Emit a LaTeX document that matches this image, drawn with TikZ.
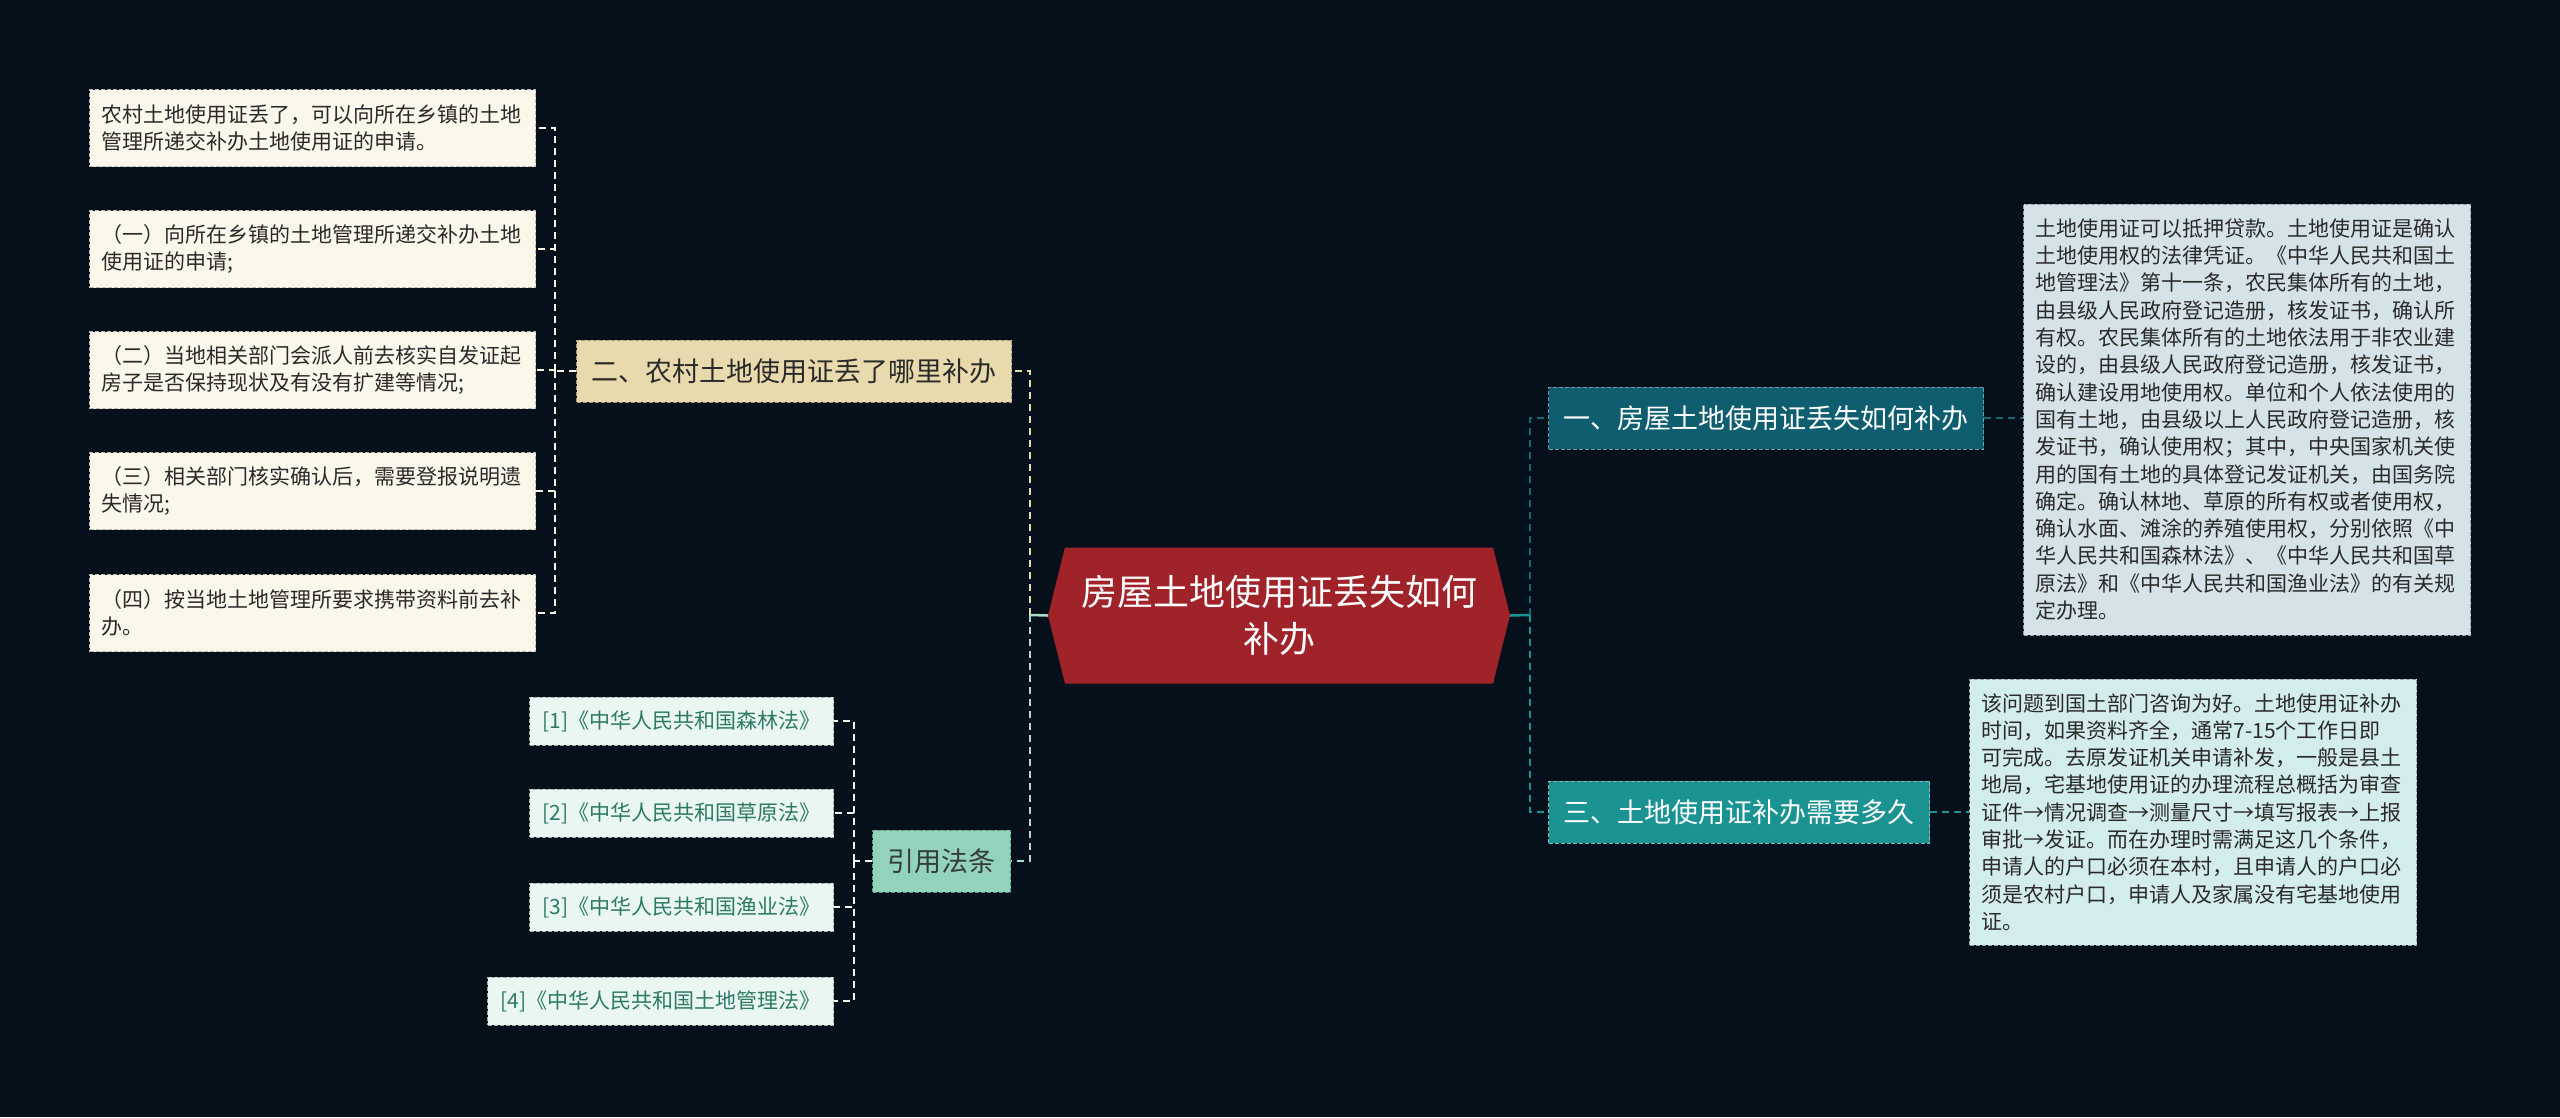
\documentclass[tikz,border=0pt]{standalone}
\usepackage{fontspec}
\setmainfont{Noto Sans CJK SC}
\usetikzlibrary{positioning,shapes.symbols}
\definecolor{Bg}{HTML}{06101A}
\definecolor{Root}{HTML}{A0232A}
\definecolor{Sand}{HTML}{E8DAAD}
\definecolor{Cream}{HTML}{FBF7EB}
\definecolor{Mint}{HTML}{93D3BC}
\definecolor{MintPale}{HTML}{EAF6F1}
\definecolor{LawText}{HTML}{2C7A63}
\definecolor{Petrol}{HTML}{0F5E70}
\definecolor{Teal}{HTML}{1B9393}
\definecolor{Mist}{HTML}{D5E3E8}
\definecolor{Ice}{HTML}{D3ECEC}
\definecolor{Ink}{HTML}{2A2A2A}

\begin{document}
\begin{tikzpicture}[x=1pt,y=-1pt,
  box/.style={draw,dash pattern=on 4pt off 2pt,line width=1pt,inner ysep=0pt},
  root/.style={signal,signal to=west and east,signal pointer angle=152,fill=Root,
    text=white,align=center,minimum width=462pt,minimum height=136pt,
    font=\fontsize{36}{47}\selectfont},
  branch/.style={box,minimum height=62pt,inner xsep=15pt,font=\fontsize{27}{32}\selectfont},
  leaf/.style={box,fill=Cream,draw=Cream!75!black,text=Ink,text width=422pt,align=left,
    inner xsep=12pt,minimum height=77pt,font=\fontsize{21}{26.5}\selectfont,anchor=east},
  law/.style={box,fill=MintPale,draw=MintPale!70!black,text=LawText,inner xsep=13pt,
    minimum height=48pt,font=\fontsize{21}{26}\selectfont,anchor=east},
  note/.style={box,text=Ink,text width=423pt,align=left,inner xsep=12pt,
    font=\fontsize{21}{27.3}\selectfont,anchor=west},
  link/.style={line width=2.5pt,dash pattern=on 7pt off 5pt}]

  \useasboundingbox (0,0) rectangle (2560,1117);
  \fill[Bg] (0,0) rectangle (2560,1117);

  % centre
  \node[root] (root) at (1279,615.5) {房屋土地使用证丢失如何\\补办};
  \coordinate (lt) at (1030,615);
  \coordinate (rt) at (1530,615);

  % left side
  \node[branch,fill=Sand,draw=Sand!70!black,text=Ink,anchor=east] (b2) at (1012,371)
    {二、农村土地使用证丢了哪里补办};
  \node[branch,fill=Mint,draw=Mint!70!black,text=Ink!90!Mint,anchor=east] (b4) at (1011,861)
    {引用法条};

  \foreach \i/\y/\txt in {
    1/128/{农村土地使用证丢了，可以向所在乡镇的土地\\管理所递交补办土地使用证的申请。},
    2/249/{（一）向所在乡镇的土地管理所递交补办土地\\使用证的申请;},
    3/370/{（二）当地相关部门会派人前去核实自发证起\\房子是否保持现状及有没有扩建等情况;},
    4/491/{（三）相关部门核实确认后，需要登报说明遗\\失情况;},
    5/613/{（四）按当地土地管理所要求携带资料前去补\\办。}} {
    \node[leaf] (l\i) at (536,\y) {\txt};
  }

  \foreach \i/\y/\txt in {1/721/森林法,2/813/草原法,3/907/渔业法,4/1001/土地管理法} {
    \node[law] (law\i) at (834,\y) {[\i]《中华人民共和国\txt》};
  }

  % right side
  \node[branch,fill=Petrol,draw=Petrol!60!white,text=white,anchor=west] (b1) at (1548,418)
    {一、房屋土地使用证丢失如何补办};
  \node[branch,fill=Teal,draw=Teal!60!white,text=white,anchor=west] (b3) at (1548,812)
    {三、土地使用证补办需要多久};

  \node[note,fill=Mist,draw=Mist!70!black,minimum height=431pt] (r1) at (2023,419.5) {%
    土地使用证可以抵押贷款。土地使用证是确认\\
    土地使用权的法律凭证。《中华人民共和国土\\
    地管理法》第十一条，农民集体所有的土地，\\
    由县级人民政府登记造册，核发证书，确认所\\
    有权。农民集体所有的土地依法用于非农业建\\
    设的，由县级人民政府登记造册，核发证书，\\
    确认建设用地使用权。单位和个人依法使用的\\
    国有土地，由县级以上人民政府登记造册，核\\
    发证书，确认使用权；其中，中央国家机关使\\
    用的国有土地的具体登记发证机关，由国务院\\
    确定。确认林地、草原的所有权或者使用权，\\
    确认水面、滩涂的养殖使用权，分别依照《中\\
    华人民共和国森林法》、《中华人民共和国草\\
    原法》和《中华人民共和国渔业法》的有关规\\
    定办理。};
  \node[note,fill=Ice,draw=Ice!70!black,minimum height=266pt] (r3) at (1969,812) {%
    该问题到国土部门咨询为好。土地使用证补办\\
    时间，如果资料齐全，通常7-15个工作日即\\
    可完成。去原发证机关申请补发，一般是县土\\
    地局，宅基地使用证的办理流程总概括为审查\\
    证件→情况调查→测量尺寸→填写报表→上报\\
    审批→发证。而在办理时需满足这几个条件，\\
    申请人的户口必须在本村，且申请人的户口必\\
    须是农村户口，申请人及家属没有宅基地使用\\
    证。};

  % connectors
  \draw[line width=2.5pt,Mint!80!white] (root.west) -- (lt);
  \draw[link,Sand] (lt) |- (b2.east);
  \draw[link,Mint!80!white] (lt) |- (b4.east);
  \draw[line width=2.5pt,Teal] (root.east) -- (rt);
  \draw[link,Petrol!80!Teal] (rt) |- (b1.west);
  \draw[link,Teal] (rt) |- (b3.west);
  \draw[link,Petrol!80!Teal] (b1.east) -- (b1.east -| r1.west);
  \draw[link,Teal] (b3.east) -- (r3.west);

  \coordinate (lb) at (555,371);
  \draw[link,Cream!85!Sand] (b2.west) -- (lb);
  \foreach \i in {1,...,5}
    \draw[link,Cream!85!Sand] (lb) |- (l\i.east);

  \coordinate (lawb) at (854,861);
  \draw[link,MintPale] (b4.west) -- (lawb);
  \foreach \i in {1,...,4}
    \draw[link,MintPale] (lawb) |- (law\i.east);
\end{tikzpicture}
\end{document}
